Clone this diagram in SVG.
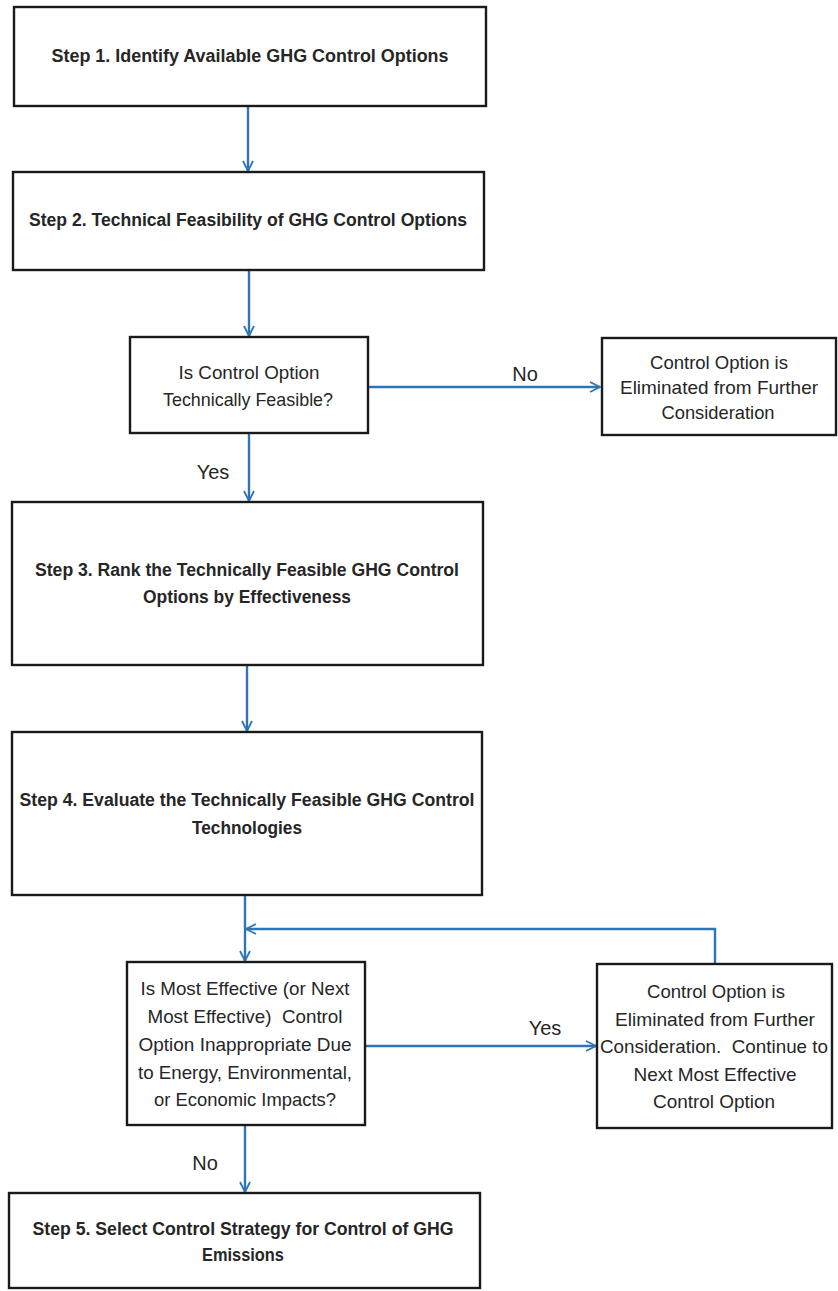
<svg xmlns="http://www.w3.org/2000/svg" width="838" height="1291" viewBox="0 0 838 1291">
<style>
.box{fill:#fff;stroke:#1a1a1a;stroke-width:2.4}
.b{font-family:"Liberation Sans",Arial,sans-serif;font-weight:bold;font-size:18px;fill:#262626;text-anchor:middle}
.r{font-family:"Liberation Sans",Arial,sans-serif;font-size:18.5px;fill:#262626;text-anchor:middle;white-space:pre}
.lbl{font-family:"Liberation Sans",Arial,sans-serif;font-size:20px;fill:#262626;text-anchor:middle}
.c{fill:none;stroke:#2e75b6;stroke-width:2.4}
</style>
<defs>
<marker id="ah" viewBox="0 0 12 12" refX="11" refY="6" markerWidth="12" markerHeight="12" markerUnits="userSpaceOnUse" orient="auto">
<path d="M1,1 L11,6 L1,11" fill="none" stroke="#2e75b6" stroke-width="1.8"/>
</marker>
</defs>
<rect width="838" height="1291" fill="#fff"/>
<g id="connectors">
<line class="c" x1="248" y1="106" x2="248" y2="171" marker-end="url(#ah)"/>
<line class="c" x1="249" y1="270" x2="249" y2="336" marker-end="url(#ah)"/>
<line class="c" x1="368" y1="387" x2="600" y2="387" marker-end="url(#ah)"/>
<line class="c" x1="249" y1="433" x2="249" y2="501" marker-end="url(#ah)"/>
<line class="c" x1="247" y1="665" x2="247" y2="731" marker-end="url(#ah)"/>
<line class="c" x1="245" y1="895" x2="245" y2="961" marker-end="url(#ah)"/>
<polyline class="c" points="715,964 715,929 246,929" marker-end="url(#ah)"/>
<line class="c" x1="365" y1="1046" x2="596" y2="1046" marker-end="url(#ah)"/>
<line class="c" x1="245" y1="1125" x2="245" y2="1192" marker-end="url(#ah)"/>
<text class="lbl" x="525" y="381">No</text>
<text class="lbl" x="213" y="479">Yes</text>
<text class="lbl" x="545" y="1035">Yes</text>
<text class="lbl" x="205" y="1170">No</text>
</g>
<g id="step1">
<rect class="box" x="14" y="7" width="472" height="99"/>
<text class="b" x="250" y="62" textLength="397" lengthAdjust="spacingAndGlyphs">Step 1. Identify Available GHG Control Options</text>
</g>
<g id="step2">
<rect class="box" x="13" y="172" width="471" height="98"/>
<text class="b" x="248" y="226" textLength="438" lengthAdjust="spacingAndGlyphs">Step 2. Technical Feasibility of GHG Control Options</text>
</g>
<g id="decision1">
<rect class="box" x="130" y="337" width="238" height="96"/>
<text class="r" x="249" y="379" textLength="141" lengthAdjust="spacingAndGlyphs">Is Control Option</text>
<text class="r" x="248" y="406" textLength="170" lengthAdjust="spacingAndGlyphs">Technically Feasible?</text>
</g>
<g id="eliminated1">
<rect class="box" x="602" y="338" width="234" height="97"/>
<text class="r" x="719" y="369" textLength="138" lengthAdjust="spacingAndGlyphs">Control Option is</text>
<text class="r" x="719" y="394" textLength="198" lengthAdjust="spacingAndGlyphs">Eliminated from Further</text>
<text class="r" x="718" y="419" textLength="113" lengthAdjust="spacingAndGlyphs">Consideration</text>
</g>
<g id="step3">
<rect class="box" x="12" y="502" width="471" height="163"/>
<text class="b" x="247" y="576" textLength="424" lengthAdjust="spacingAndGlyphs">Step 3. Rank the Technically Feasible GHG Control</text>
<text class="b" x="247" y="603" textLength="208" lengthAdjust="spacingAndGlyphs">Options by Effectiveness</text>
</g>
<g id="step4">
<rect class="box" x="12" y="732" width="470" height="163"/>
<text class="b" x="247" y="806" textLength="455" lengthAdjust="spacingAndGlyphs">Step 4. Evaluate the Technically Feasible GHG Control</text>
<text class="b" x="247" y="834" textLength="110" lengthAdjust="spacingAndGlyphs">Technologies</text>
</g>
<g id="decision2">
<rect class="box" x="127" y="962" width="238" height="163"/>
<text class="r" x="245" y="995" textLength="209" lengthAdjust="spacingAndGlyphs">Is Most Effective (or Next</text>
<text class="r" x="245" y="1023" textLength="195" lengthAdjust="spacingAndGlyphs">Most Effective)  Control</text>
<text class="r" x="245" y="1051" textLength="213" lengthAdjust="spacingAndGlyphs">Option Inappropriate Due</text>
<text class="r" x="245" y="1079" textLength="214" lengthAdjust="spacingAndGlyphs">to Energy, Environmental,</text>
<text class="r" x="245" y="1106" textLength="182" lengthAdjust="spacingAndGlyphs">or Economic Impacts?</text>
</g>
<g id="eliminated2">
<rect class="box" x="597" y="964" width="235" height="164"/>
<text class="r" x="716" y="998" textLength="138" lengthAdjust="spacingAndGlyphs">Control Option is</text>
<text class="r" x="715" y="1026" textLength="200" lengthAdjust="spacingAndGlyphs">Eliminated from Further</text>
<text class="r" x="714" y="1053" textLength="228" lengthAdjust="spacingAndGlyphs">Consideration.  Continue to</text>
<text class="r" x="715" y="1081" textLength="163" lengthAdjust="spacingAndGlyphs">Next Most Effective</text>
<text class="r" x="714" y="1108" textLength="122" lengthAdjust="spacingAndGlyphs">Control Option</text>
</g>
<g id="step5">
<rect class="box" x="9" y="1193" width="471" height="95"/>
<text class="b" x="243" y="1235" textLength="421" lengthAdjust="spacingAndGlyphs">Step 5. Select Control Strategy for Control of GHG</text>
<text class="b" x="243" y="1261" textLength="82" lengthAdjust="spacingAndGlyphs">Emissions</text>
</g>
</svg>
